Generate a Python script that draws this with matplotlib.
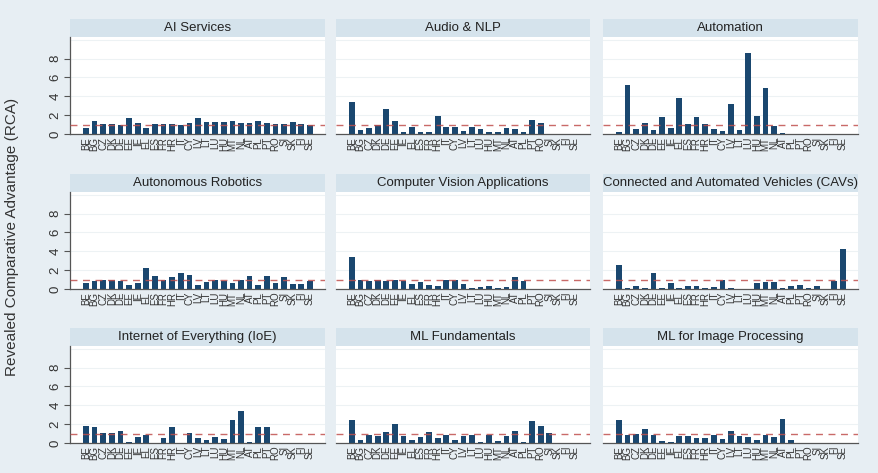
import matplotlib.pyplot as plt

plt.rcParams['font.family'] = ['Liberation Sans', 'DejaVu Sans']

# Country codes (EU protocol order), used for every panel
countries = ["BE", "BG", "CZ", "DK", "DE", "EE", "IE", "EL", "ES", "FR", "HR", "IT", "CY", "LV",
             "LT", "LU", "HU", "MT", "NL", "AT", "PL", "PT", "RO", "SI", "SK", "FI", "SE"]

titles = ["AI Services", "Audio & NLP", "Automation",
          "Autonomous Robotics", "Computer Vision Applications",
          "Connected and Automated Vehicles (CAVs)",
          "Internet of Everything (IoE)", "ML Fundamentals", "ML for Image Processing"]

# RCA values (0 = no bar)
ai_services = [0.6, 1.35, 1.05, 1.05, 0.95, 1.7, 1.15, 0.6, 1.05, 1.05, 1.05, 0.95, 1.15, 1.65,
               1.3, 1.3, 1.3, 1.4, 1.15, 1.15, 1.35, 1.15, 1.1, 1.05, 1.3, 1.05, 1.0]
audio_nlp = [3.45, 0.4, 0.65, 1.0, 2.65, 1.35, 0.2, 0.7, 0.2, 0.2, 1.95, 0.7, 0.7, 0.3,
             0.75, 0.5, 0.2, 0.2, 0.65, 0.5, 0.2, 1.5, 1.15, 0, 0, 0, 0]
automation = [0.25, 5.25, 0.55, 1.15, 0.45, 1.8, 0.6, 3.8, 1.1, 1.8, 1.1, 0.5, 0.35, 3.15,
              0.45, 8.6, 1.95, 4.85, 0.8, 0.1, 0, 0, 0, 0, 0, 0, 0]
robotics = [0.6, 0.85, 1.0, 1.0, 0.9, 0.45, 0.6, 2.2, 1.4, 1.0, 1.25, 1.65, 1.5, 0.45,
            0.75, 0.95, 0.85, 0.65, 1.0, 1.35, 0.45, 1.35, 0.65, 1.3, 0.5, 0.5, 0.8]
vision = [3.4, 0.95, 0.85, 1.0, 0.85, 1.0, 0.85, 0.55, 0.75, 0.45, 0.3, 1.0, 1.0, 0.55,
          0.1, 0.2, 0.3, 0.1, 0.2, 1.3, 0.85, 0, 0, 0, 0, 0, 0]
cavs = [2.55, 0.1, 0.35, 0.1, 1.65, 0.1, 0.6, 0.1, 0.3, 0.3, 0.1, 0.2, 1.0, 0.1,
        0.05, 0.05, 0.6, 0.75, 0.75, 0.1, 0.3, 0.45, 0.1, 0.3, 0.05, 0.9, 4.2]
ioe = [1.85, 1.65, 1.05, 1.05, 1.3, 0.15, 0.6, 0.8, 0, 0.55, 1.65, 0, 1.05, 0.5,
       0.35, 0.65, 0.4, 2.4, 3.45, 0.1, 1.75, 1.65, 0, 0, 0, 0, 0]
ml_fund = [2.45, 0.35, 0.9, 0.7, 1.2, 2.0, 0.7, 0.35, 0.6, 1.15, 0.5, 0.8, 0.35, 0.7,
           0.9, 0.1, 0.9, 0.25, 0.7, 1.3, 0.1, 2.3, 1.8, 1.1, 0, 0, 0]
ml_image = [2.4, 0.9, 0.95, 1.5, 0.8, 0.2, 0.15, 0.7, 0.7, 0.55, 0.5, 0.8, 0.45, 1.3,
            0.7, 0.6, 0.35, 0.8, 0.65, 2.55, 0.35, 0, 0, 0, 0, 0, 0]

series = [ai_services, audio_nlp, automation, robotics, vision, cavs, ioe, ml_fund, ml_image]

BG = "#e7eef3"
STRIP = "#d5e3ec"
BAR = "#1a476f"
W, H = 879, 473

fig = plt.figure(figsize=(W / 100, H / 100), dpi=100, facecolor=BG)

col_left = [70, 336, 603]
col_w = [255, 254, 255]
row_strip_top = [19, 174, 328]
strip_h = 18
plot_h = 97

def px(x, y, w, h):
    # pixel box (top-left origin) -> figure fraction
    return [x / W, 1 - (y + h) / H, w / W, h / H]

x = list(range(len(countries)))
for i, (title, vals) in enumerate(zip(titles, series)):
    r, c = divmod(i, 3)
    top = row_strip_top[r]
    # title strip
    sax = fig.add_axes(px(col_left[c], top, col_w[c], strip_h))
    sax.set_facecolor(STRIP)
    sax.set_xticks([])
    sax.set_yticks([])
    for s in sax.spines.values():
        s.set_visible(False)
    sax.text(0.5, 0.5, title, ha="center", va="center", fontsize=9.5, color="#222222",
             transform=sax.transAxes)

    ax = fig.add_axes(px(col_left[c], top + strip_h, col_w[c], plot_h))
    ax.set_facecolor("white")
    for yv in [2, 4, 6, 8, 10]:
        ax.axhline(yv, color="#edf2f4", lw=0.8, zorder=0)
    ax.bar(x, vals, width=0.66, color=BAR, zorder=2)
    ax.axhline(1, color="#c0504d", lw=1.0, ls=(0, (5, 4)), alpha=0.85, zorder=3)
    ax.set_ylim(0, 10.3)
    ax.set_xlim(-1.86, 27.75)
    ax.set_xticks(x)
    ax.set_xticklabels(countries, rotation=90, fontsize=7, color="#333333")
    ax.tick_params(axis="x", length=0, pad=2)
    for s in ["top", "right"]:
        ax.spines[s].set_visible(False)
    ax.spines["bottom"].set_color("#555555")
    ax.spines["bottom"].set_linewidth(0.9)
    if c == 0:
        ax.spines["left"].set_color("#555555")
        ax.spines["left"].set_linewidth(0.9)
        ax.set_yticks([0, 2, 4, 6, 8])
        ax.set_yticklabels(["0", "2", "4", "6", "8"], rotation=90, va="center",
                           fontsize=9.5, color="#333333")
        ax.tick_params(axis="y", length=4, color="#555555", pad=2)
    else:
        ax.spines["left"].set_visible(False)
        ax.set_yticks([])

fig.text(12 / W, 0.5, "Revealed Comparative Advantage (RCA)", rotation=90,
         ha="center", va="center", fontsize=11, color="#333333")

fig.savefig("out.png", dpi=100, facecolor=BG)
